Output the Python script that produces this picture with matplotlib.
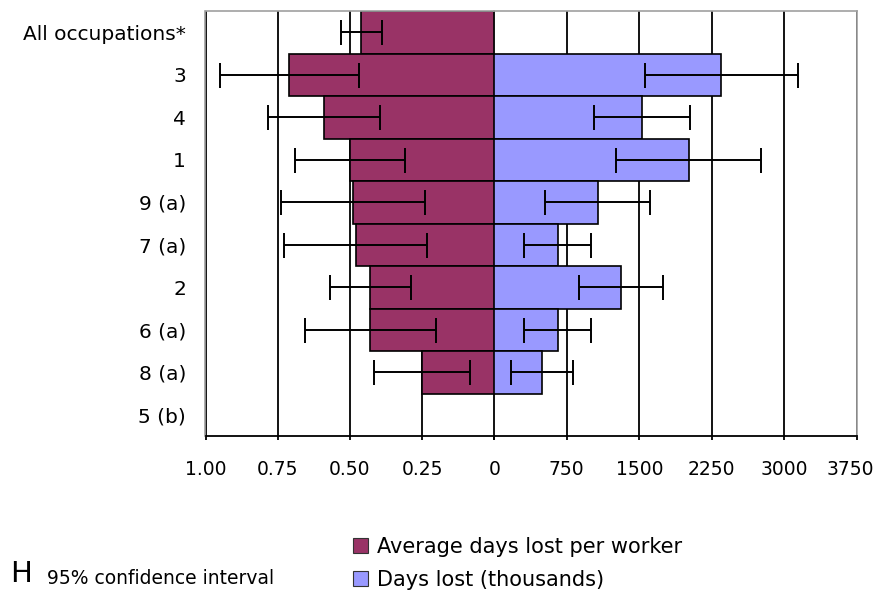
import numpy as np
import matplotlib
matplotlib.use("Agg")
import matplotlib.pyplot as plt
import matplotlib.transforms as mtransforms
from matplotlib.patches import Patch

plt.rcParams['font.family'] = ['DejaVu Sans']

# occupation groups, top to bottom
labels = ["All occupations*", "3", "4", "1", "9 (a)", "7 (a)", "2", "6 (a)", "8 (a)", "5 (b)"]
# average days lost per worker and 95% CI half-width
avg_days = np.array([0.46, 0.71, 0.59, 0.50, 0.49, 0.48, 0.43, 0.43, 0.25, np.nan])
avg_ci = np.array([0.07, 0.24, 0.195, 0.19, 0.25, 0.247, 0.14, 0.227, 0.165, np.nan])
# days lost (thousands) and 95% CI half-width
days_lost = np.array([np.nan, 2350, 1530, 2010, 1070, 655, 1310, 655, 495, np.nan])
days_ci = np.array([np.nan, 790, 500, 750, 543, 348, 431, 348, 318, np.nan])

left_ticks = [1.0, 0.75, 0.5, 0.25, 0]
left_ticklabels = ["1.00", "0.75", "0.50", "0.25", "0"]
right_ticks = [0, 750, 1500, 2250, 3000, 3750]
right_ticklabels = ["", "750", "1500", "2250", "3000", "3750"]

maroon = '#993366'
lilac = '#9999FF'
border = '#a0a0a0'

W, H = 878, 596
top, bottom = 11, 436
x0, xz, x1 = 205.5, 494.3, 856.7

fig = plt.figure(figsize=(W / 100, H / 100), dpi=100)
ax_l = fig.add_axes([x0 / W, 1 - bottom / H, (xz - x0) / W, (bottom - top) / H])
ax_r = fig.add_axes([xz / W, 1 - bottom / H, (x1 - xz) / W, (bottom - top) / H], sharey=ax_l)

y = np.arange(len(labels))

m = ~np.isnan(avg_days)
ax_l.barh(y[m], avg_days[m], height=1.0, color=maroon, edgecolor='black', linewidth=1.2, zorder=2)
ax_l.errorbar(avg_days[m], y[m], xerr=avg_ci[m], fmt='none', ecolor='black',
              elinewidth=1.4, capsize=9, capthick=1.4, zorder=3)

m = ~np.isnan(days_lost)
ax_r.barh(y[m], days_lost[m], height=1.0, color=lilac, edgecolor='black', linewidth=1.2, zorder=2)
ax_r.errorbar(days_lost[m], y[m], xerr=days_ci[m], fmt='none', ecolor='black',
              elinewidth=1.4, capsize=9, capthick=1.4, zorder=3)

ax_l.set_xlim(1.0, 0)
ax_r.set_xlim(0, 3750)
ax_l.set_ylim(len(labels) - 0.5, -0.5)

ax_l.set_xticks(left_ticks)
ax_l.set_xticklabels(left_ticklabels)
ax_r.set_xticks(right_ticks)
ax_r.set_xticklabels(right_ticklabels)

ax_l.set_yticks(y)
ax_l.set_yticklabels(labels, fontsize=14.5)
ax_l.tick_params(axis='y', length=0, pad=14)
ax_r.tick_params(axis='y', left=False, labelleft=False)

for ax in (ax_l, ax_r):
    ax.set_axisbelow(True)
    ax.grid(axis='x', color='black', linewidth=1.3)
    ax.tick_params(axis='x', direction='out', length=3, width=1.3, pad=14, labelsize=13.5)
    ax.spines['bottom'].set_linewidth(1.3)
    ax.spines['top'].set_color(border)
    ax.spines['top'].set_linewidth(1.2)

# nudge the last label in so it stays on the canvas
last = ax_r.get_xticklabels()[-1]
last.set_transform(last.get_transform()
                   + mtransforms.ScaledTranslation(-6 / 100, 0, fig.dpi_scale_trans))

ax_l.spines['right'].set_visible(False)
ax_l.spines['left'].set_color(border)
ax_l.spines['left'].set_linewidth(1.2)
ax_r.spines['left'].set_visible(False)
ax_r.spines['right'].set_color(border)
ax_r.spines['right'].set_linewidth(1.2)

handles = [Patch(facecolor=maroon, edgecolor='#333333', linewidth=0.8),
           Patch(facecolor=lilac, edgecolor='#333333', linewidth=0.8)]
fig.legend(handles, ["Average days lost per worker", "Days lost (thousands)"],
           loc='upper left', bbox_to_anchor=(353 / W, 1 - 537 / H), frameon=False,
           fontsize=15, handlelength=0.7, handleheight=0.7, handletextpad=0.45,
           labelspacing=0.6, borderpad=0, borderaxespad=0)

fig.text(10 / W, 1 - 574 / H, "H", fontsize=21, va='center', ha='left')
fig.text(47 / W, 1 - 578 / H, "95% confidence interval", fontsize=13.5, va='center', ha='left')

fig.savefig("out.png", dpi=100)
